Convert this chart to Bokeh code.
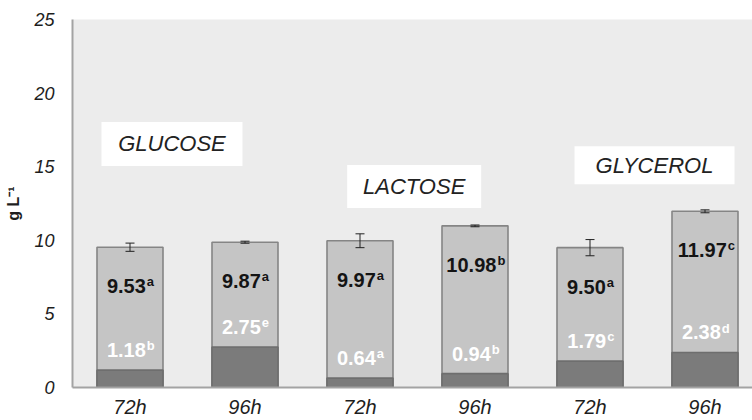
from bokeh.plotting import figure
from bokeh.models import Range1d, Whisker, ColumnDataSource, TeeHead, FixedTicker
from bokeh.core.properties import value
from bokeh.embed import file_html
from bokeh.resources import INLINE

# ---------------- data ----------------
times = ["72h", "96h", "72h", "96h", "72h", "96h"]
sugars = ["GLUCOSE", "LACTOSE", "GLYCEROL"]
total = [9.53, 9.87, 9.97, 10.98, 9.50, 11.97]
total_err = [0.28, 0.07, 0.47, 0.06, 0.55, 0.10]
total_sig = ["a", "a", "a", "b", "a", "c"]
part = [1.18, 2.75, 0.64, 0.94, 1.79, 2.38]
part_sig = ["b", "e", "a", "b", "c", "d"]
y_ticks = [0, 5, 10, 15, 20, 25]

# ---------------- layout / style ----------------
FONT = value("Liberation Sans")
NUM_FS = 20
SUP_FS = 13
px_per_cat = 115.0
frame_w = 680
TOT_DY = 39      # label centre below bar top (px)
PART_DY = -20    # label centre above dark segment top (px)
SUP_DY = -4.4    # superscript shift relative to number centre (px)

box_x = [0.365, 2.471, 4.561]
box_y = [16.55, 13.66, 15.1]
box_w = [141, 134, 160]
box_h = [44, 43, 38]

xs = list(range(len(times)))


def num_w(s, fs):
    return fs * sum(0.278 if ch == "." else 0.556 for ch in s)


def sup_w(s, fs):
    return fs * (0.5 if s == "c" else 0.556)


tot_txt = ["%.2f" % v for v in total]
part_txt = ["%.2f" % v for v in part]
tot_xo = [(num_w(t, NUM_FS) - sup_w(s, SUP_FS)) / 2 for t, s in zip(tot_txt, total_sig)]
part_xo = [(num_w(t, NUM_FS) - sup_w(s, SUP_FS)) / 2 for t, s in zip(part_txt, part_sig)]

src = ColumnDataSource(dict(
    x=xs, total=total, part=part,
    upper=[t + e for t, e in zip(total, total_err)],
    lower=[t - e for t, e in zip(total, total_err)],
    tot_txt=tot_txt, tot_sig=total_sig, part_txt=part_txt, part_sig=part_sig,
    tot_xo=tot_xo, tot_xo2=[v + 1 for v in tot_xo],
    part_xo=part_xo, part_xo2=[v + 1 for v in part_xo],
))

p = figure(width=752, height=420, output_backend="svg", toolbar_location=None,
           x_range=Range1d(-0.5, -0.5 + frame_w / px_per_cat), y_range=Range1d(0, 25),
           min_border_left=72, min_border_right=0, min_border_top=19, min_border_bottom=32)
p.background_fill_color = "#ececec"
p.border_fill_color = "white"
p.outline_line_color = None
p.grid.visible = False

# bars
p.vbar(x="x", top="total", bottom=0, width=0.574, source=src,
       fill_color="#c5c5c5", line_color="#858585", line_width=1.6)
p.vbar(x="x", top="part", bottom=0, width=0.574, source=src,
       fill_color="#7b7b7b", line_color="#6e6e6e", line_width=1.6)

# error bars
w = Whisker(base="x", upper="upper", lower="lower", source=src,
            line_color="#222222", line_width=1, level="overlay",
            upper_head=TeeHead(size=9, line_color="#222222", line_width=1),
            lower_head=TeeHead(size=9, line_color="#222222", line_width=1))
p.add_layout(w)

# value labels
p.text(x="x", y="total", text="tot_txt", source=src, x_offset="tot_xo", y_offset=TOT_DY,
       text_font=FONT, text_font_style="bold", text_font_size="%dpx" % NUM_FS,
       text_align="right", text_baseline="middle", text_color="#141414")
p.text(x="x", y="total", text="tot_sig", source=src, x_offset="tot_xo2", y_offset=TOT_DY + SUP_DY,
       text_font=FONT, text_font_style="bold", text_font_size="%dpx" % SUP_FS,
       text_align="left", text_baseline="middle", text_color="#141414")
p.text(x="x", y="part", text="part_txt", source=src, x_offset="part_xo", y_offset=PART_DY,
       text_font=FONT, text_font_style="bold", text_font_size="%dpx" % NUM_FS,
       text_align="right", text_baseline="middle", text_color="white")
p.text(x="x", y="part", text="part_sig", source=src, x_offset="part_xo2", y_offset=PART_DY + SUP_DY,
       text_font=FONT, text_font_style="bold", text_font_size="%dpx" % SUP_FS,
       text_align="left", text_baseline="middle", text_color="white")

# sugar boxes
bsrc = ColumnDataSource(dict(x=box_x, y=box_y, w=box_w, h=box_h, t=sugars))
p.rect(x="x", y="y", width="w", height="h", width_units="screen", height_units="screen",
       source=bsrc, fill_color="white", line_color=None)
p.text(x="x", y="y", text="t", source=bsrc,
       text_font=FONT, text_font_style="italic", text_font_size="22px",
       text_align="center", text_baseline="middle", text_color="#222222")

# axes
p.xaxis.ticker = FixedTicker(ticks=xs)
p.xaxis.major_label_overrides = {i: t for i, t in zip(xs, times)}
p.yaxis.ticker = FixedTicker(ticks=y_ticks)
for ax in (p.xaxis[0], p.yaxis[0]):
    ax.axis_line_color = "#a3a3a3"
    ax.axis_line_width = 2
    ax.major_tick_line_color = None
    ax.minor_tick_line_color = None
    ax.major_tick_out = 0
    ax.major_tick_in = 0
    ax.major_label_text_font = "Liberation Sans"
    ax.major_label_text_font_style = "italic"
    ax.major_label_text_color = "#1e1e1e"
p.xaxis.major_label_text_font_size = "20px"
p.xaxis.major_label_standoff = 8
p.yaxis.major_label_text_font_size = "18px"
p.yaxis.major_label_standoff = 18
p.yaxis.axis_label = "g L\u207b\u00b9"
p.yaxis.axis_label_text_font = "Liberation Sans"
p.yaxis.axis_label_text_font_style = "bold"
p.yaxis.axis_label_text_font_size = "16px"
p.yaxis.axis_label_text_color = "#1e1e1e"
p.yaxis.axis_label_standoff = 9

open("out.html", "w").write(file_html(p, INLINE))
